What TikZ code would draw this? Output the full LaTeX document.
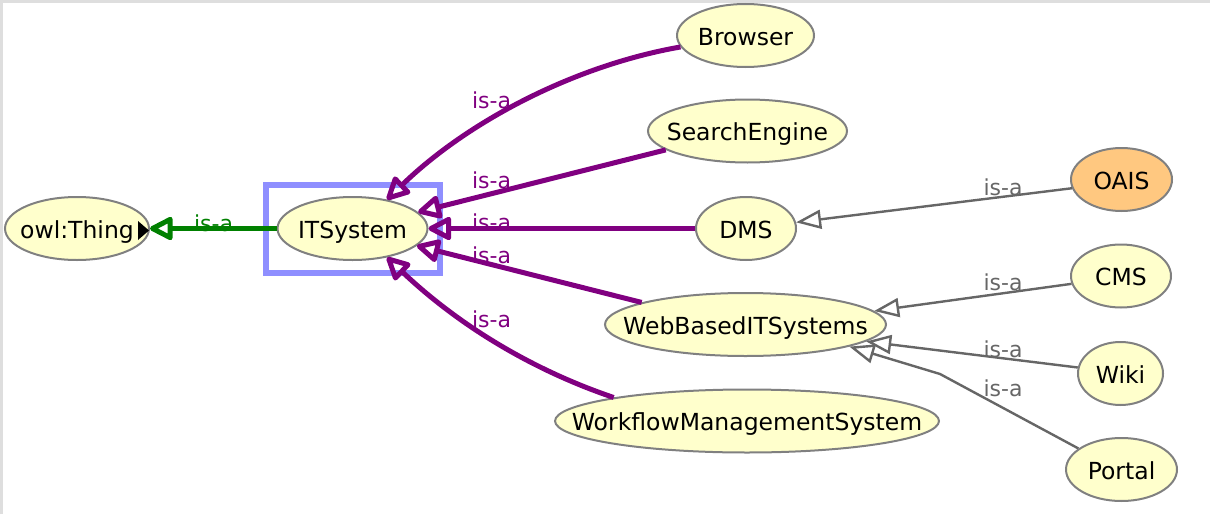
\documentclass[tikz,border=0pt]{standalone}
\usepackage{fontspec}
\setmainfont{DejaVu Sans}
\usepackage{tikz}
\usetikzlibrary{arrows.meta, shapes.geometric}

\definecolor{isapurple}{RGB}{128,0,128}
\definecolor{topgreen}{RGB}{0,128,0}
\definecolor{subgray}{RGB}{102,102,102}
\definecolor{clsborder}{RGB}{128,128,128}
\definecolor{clsfill}{RGB}{255,255,204}
\definecolor{oaisfill}{RGB}{255,200,128}
\definecolor{selblue}{RGB}{143,143,255}

\newcommand{\cname}[1]{\makebox[0pt]{#1}}

\begin{document}
\begin{tikzpicture}[x=1pt, y=-1pt,
  cls/.style={ellipse, draw=clsborder, line width=2pt, fill=clsfill, inner sep=0pt,
    minimum height=63pt, text height=19pt, text depth=0pt, font=\fontsize{23.5}{28}\selectfont},
  isa/.style={isapurple, line width=5pt, -{Triangle[open, round, length=26pt, width=25pt]}},
  topisa/.style={topgreen, line width=5pt, -{Triangle[open, round, length=26pt, width=25pt]}},
  subisa/.style={subgray, line width=2.4pt, -{Triangle[open, length=25pt, width=19pt]}},
  isalabel/.style={anchor=base, font=\fontsize{22}{26}\selectfont}]
  \useasboundingbox (0,0) rectangle (1210,514);
  \draw[black!13, line width=2.5pt] (1.25,514) -- (1.25,1.25) -- (1210,1.25);

  \draw[selblue, line width=6.5pt] (266,185) rectangle (440,273);

  \node[cls, minimum width=144pt] (thing) at (77,228.5) {\cname{owl:Thing}};
  \fill (138,221) -- (149,230.5) -- (138,240) -- cycle;
  \node[cls, minimum width=150pt] (it) at (352.5,228.5) {\cname{ITSystem}};
  \node[cls, minimum width=137pt] (browser) at (745.5,35.5) {\cname{Browser}};
  \node[cls, minimum width=199pt] (search) at (747.5,131) {\cname{SearchEngine}};
  \node[cls, minimum width=100pt] (dms) at (746,228.5) {\cname{DMS}};
  \node[cls, minimum width=281pt] (web) at (745.5,324.5) {\cname{WebBasedITSystems}};
  \node[cls, minimum width=384pt] (wfms) at (747,421) {\cname{WorkflowManagementSystem}};
  \node[cls, minimum width=101pt, fill=oaisfill] (oais) at (1121.5,179.5) {\cname{OAIS}};
  \node[cls, minimum width=100pt] (cms) at (1121,276) {\cname{CMS}};
  \node[cls, minimum width=85pt] (wiki) at (1120.5,373.5) {\cname{Wiki}};
  \node[cls, minimum width=111pt] (portal) at (1121.5,469.5) {\cname{Portal}};

  \draw[topisa] (it.west) -- (thing.east);
  \node[isalabel, topgreen] (lthing) at (213.5,231) {is-a};

  \draw[isa] (browser.190) .. controls (572,66) and (466,123) .. (it.40);
  \draw[isa] (search.193) -- (it.14);
  \draw[isa] (dms.west) -- (it.east);
  \draw[isa] (web.168) -- (it.-15);
  \draw[isa] (wfms.170) .. controls (544,374) and (467,333) .. (it.-40);
  \node[isalabel, isapurple] (lbrowser) at (491.5,108) {is-a};
  \node[isalabel, isapurple] (lsearch) at (491.5,188) {is-a};
  \node[isalabel, isapurple] (ldms) at (491.5,230) {is-a};
  \node[isalabel, isapurple] (lweb) at (491.5,263) {is-a};
  \node[isalabel, isapurple] (lwfms) at (491.5,327) {is-a};

  \draw[subisa] (oais.190) -- (dms.7);
  \draw[subisa] (cms.189) -- (web.6);
  \draw[subisa] (wiki.172) -- (web.-8);
  \draw[subisa] (portal.154) -- (940,374) -- (web.-12);
  \node[isalabel, subgray] (loais) at (1003,195) {is-a};
  \node[isalabel, subgray] (lcms) at (1003,290) {is-a};
  \node[isalabel, subgray] (lwiki) at (1003,357) {is-a};
  \node[isalabel, subgray] (lportal) at (1003,396) {is-a};
\end{tikzpicture}
\end{document}
